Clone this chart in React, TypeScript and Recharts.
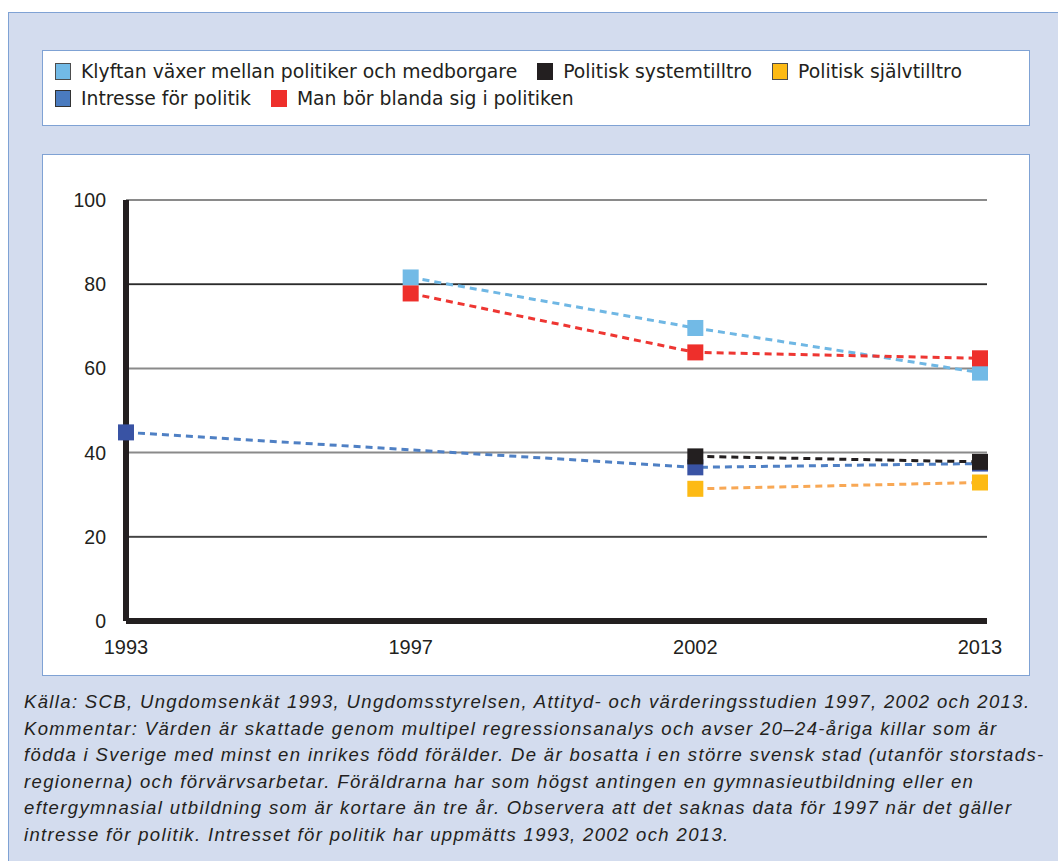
import React from "react";
import {
  LineChart,
  Line,
  XAxis,
  YAxis,
  CartesianGrid,
  ReferenceLine,
} from "recharts";

const years = ["1993", "1997", "2002", "2013"];
const yTicks = [0, 20, 40, 60, 80, 100];

const klyftan = [null, 81.6, 69.6, 59.0];
const intresse = [44.8, null, 36.5, 37.4];
const blanda = [null, 77.8, 63.8, 62.4];
const systemtilltro = [null, null, 39.1, 37.8];
const sjalvtilltro = [null, null, 31.4, 32.9];

const series = [
  { key: "intresse", name: "Intresse för politik", values: intresse, line: "#4f80c4", marker: "#3953a4" },
  { key: "klyftan", name: "Klyftan växer mellan politiker och medborgare", values: klyftan, line: "#6fb7e4", marker: "#72bae6" },
  { key: "blanda", name: "Man bör blanda sig i politiken", values: blanda, line: "#ee3632", marker: "#ee2f2b" },
  { key: "system", name: "Politisk systemtilltro", values: systemtilltro, line: "#231f20", marker: "#231f20" },
  { key: "sjalv", name: "Politisk självtilltro", values: sjalvtilltro, line: "#f8a855", marker: "#fdba14" },
];

// legend order as in the original figure
const legendRows = [
  [
    { name: "Klyftan växer mellan politiker och medborgare", color: "#72bae6", border: "#4d4d4d" },
    { name: "Politisk systemtilltro", color: "#231f20", border: "#231f20" },
    { name: "Politisk självtilltro", color: "#fdba14", border: "#4d4d4d" },
  ],
  [
    { name: "Intresse för politik", color: "#4a7bbf", border: "#333" },
    { name: "Man bör blanda sig i politiken", color: "#ee2f2b", border: "#ee2f2b" },
  ],
];

const caption = [
  "Källa: SCB, Ungdomsenkät 1993, Ungdomsstyrelsen, Attityd- och värderingsstudien 1997, 2002 och 2013.",
  "Kommentar: Värden är skattade genom multipel regressionsanalys och avser 20–24-åriga killar som är",
  "födda i Sverige med minst en inrikes född förälder. De är bosatta i en större svensk stad (utanför storstads-",
  "regionerna) och förvärvsarbetar. Föräldrarna har som högst antingen en gymnasieutbildning eller en",
  "eftergymnasial utbildning som är kortare än tre år. Observera att det saknas data för 1997 när det gäller",
  "intresse för politik. Intresset för politik har uppmätts 1993, 2002 och 2013.",
];

const data = years.map((year, i) => {
  const row: Record<string, string | number | null> = { year };
  series.forEach((s) => {
    row[s.key] = s.values[i];
  });
  return row;
});

const FONT = '"Liberation Sans", Arial, sans-serif';
const LEGEND_FONT = '"DejaVu Sans", Verdana, sans-serif';
const TEXT = "#231f20";

function squareDot(color: string) {
  return (props: any) => {
    const { cx, cy, index, value } = props;
    if (value == null || cx == null || cy == null) return <g key={`d-${index}`} />;
    return <rect key={`d-${index}`} x={cx - 8} y={cy - 8} width={16} height={16} fill={color} />;
  };
}

export default function App() {
  return (
    <div
      style={{
        position: "absolute",
        left: 0,
        top: 0,
        width: 1058,
        height: 861,
        overflow: "hidden",
        background: "#fff",
        fontFamily: FONT,
      }}
    >
      <div
        style={{
          position: "absolute",
          left: 8,
          top: 12,
          width: 1100,
          height: 900,
          background: "#d3dcee",
          border: "1px solid #7fa2d4",
        }}
      />

      {/* Legend box */}
      <div
        style={{
          position: "absolute",
          left: 42,
          top: 50,
          width: 986,
          height: 74,
          background: "#fff",
          border: "1px solid #7fa2d4",
        }}
      >
        {legendRows.map((row, r) => (
          <div
            key={r}
            style={{ position: "absolute", left: 12, top: 10 + r * 27, display: "flex", alignItems: "center", whiteSpace: "nowrap" }}
          >
            {row.map((item) => (
              <div key={item.name} style={{ display: "flex", alignItems: "center", marginRight: 20 }}>
                <span
                  style={{
                    display: "inline-block",
                    width: 16,
                    height: 17,
                    background: item.color,
                    border: `1px solid ${item.border}`,
                    boxSizing: "border-box",
                    marginRight: 10,
                  }}
                />
                <span style={{ fontSize: 18.8, color: TEXT, fontFamily: LEGEND_FONT }}>{item.name}</span>
              </div>
            ))}
          </div>
        ))}
      </div>

      {/* Chart box */}
      <div
        style={{
          position: "absolute",
          left: 42,
          top: 154,
          width: 986,
          height: 520,
          background: "#fff",
          border: "1px solid #7fa2d4",
        }}
      >
        <LineChart
          width={986}
          height={520}
          data={data}
          margin={{ top: 45, right: 42, left: 23, bottom: 24 }}
        >
          <CartesianGrid horizontal vertical={false} stroke="#8a8a8a" strokeWidth={2} />
          <ReferenceLine y={80} stroke="#2b2b2b" strokeWidth={1.5} />
          <ReferenceLine y={20} stroke="#2b2b2b" strokeWidth={1.2} />
          <XAxis
            dataKey="year"
            padding={{ left: 0, right: 7 }}
            axisLine={{ stroke: TEXT, strokeWidth: 6 }}
            tickLine={false}
            tickSize={0}
            tickMargin={19}
            tick={{ fontSize: 20, fill: TEXT, fontFamily: FONT }}
            height={30}
            interval={0}
          />
          <YAxis
            domain={[0, 100]}
            ticks={yTicks}
            width={60}
            axisLine={{ stroke: TEXT, strokeWidth: 6 }}
            tickLine={false}
            tickSize={0}
            tickMargin={20}
            tick={{ fontSize: 19.5, fill: TEXT, fontFamily: FONT }}
          />
          {series.map((s) => (
            <Line
              key={s.key}
              dataKey={s.key}
              name={s.name}
              type="linear"
              stroke={s.line}
              strokeWidth={3}
              strokeDasharray="7 5"
              connectNulls
              dot={squareDot(s.marker)}
              activeDot={false}
              isAnimationActive={false}
            />
          ))}
        </LineChart>
      </div>

      {/* Caption */}
      <div
        style={{
          position: "absolute",
          left: 24,
          top: 689,
          fontSize: 18.5,
          letterSpacing: 1.35,
          lineHeight: "26.5px",
          fontStyle: "italic",
          color: TEXT,
          whiteSpace: "nowrap",
        }}
      >
        {caption.map((l, i) => (
          <div key={i}>{l}</div>
        ))}
      </div>
    </div>
  );
}
